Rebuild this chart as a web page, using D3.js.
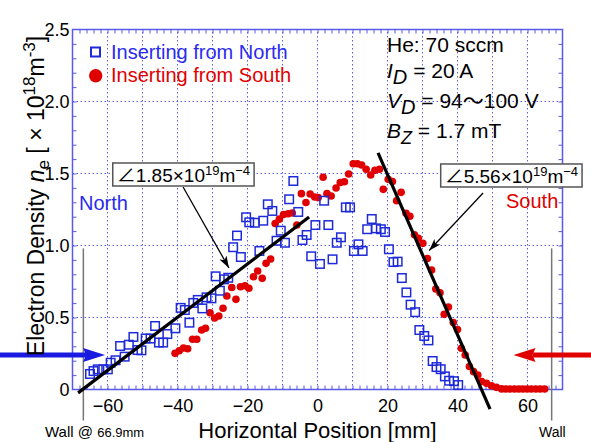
<!DOCTYPE html>
<html>
<head>
<meta charset="utf-8">
<script src="https://cdn.jsdelivr.net/npm/d3@7"></script>
<style>
  body { margin: 0; background: #fff; }
  svg { display: block; }
  text { font-family: "Liberation Sans", Arial, "Noto Sans CJK JP", sans-serif; }
</style>
</head>
<body>
<svg id="chart" width="591" height="442"></svg>
<script>
// Probe inserted from the north wall: position [mm], density [1e18 m^-3]
const northX = [-65.0,-64.0,-62.8,-61.2,-59.9,-59.1,-57.7,-56.4,-55.1,-53.9,-52.6,-51.4,-50.3,-49.1,-47.7,-46.4,-45.3,-44.1,-42.9,-40.6,
  -39.1,-37.9,-36.6,-35.5,-34.2,-32.9,-31.7,-30.3,-29.1,-27.9,-26.7,-25.5,-24.1,-23.0,-21.9,-20.4,-19.5,-17.9,-16.6,-15.5,
  -14.2,-12.9,-11.7,-10.5,-9.3,-8.1,-6.9,-5.5,-4.3,-3.1,-1.8,-0.6,0.7,1.9,3.1,4.3,5.5,6.7,8.1,9.3,
  10.4,11.7,12.9,14.2,15.5,16.7,18.1,19.3,20.4,21.7,22.9,24.1,25.4,26.6,27.9,29.1,30.5,31.7,32.9,34.0,
  35.2,36.4,37.6,39.0,40.2];
const northY = [0.108,0.128,0.140,0.140,0.140,0.186,0.203,0.302,0.228,0.311,0.365,0.274,0.272,0.354,0.354,0.441,0.326,0.326,0.385,0.425,
  0.567,0.552,0.464,0.601,0.622,0.563,0.640,0.633,0.786,0.686,0.765,0.776,0.988,1.069,0.920,1.196,1.161,1.158,0.962,1.172,
  1.286,1.240,1.033,1.103,1.019,1.321,1.448,1.233,1.038,1.073,0.925,1.142,0.872,1.311,1.142,0.904,1.019,1.057,1.265,1.265,
  0.962,1.008,0.962,1.113,1.184,1.119,1.113,1.094,0.974,0.885,0.888,0.774,0.674,0.589,0.537,0.413,0.372,0.341,0.198,0.156,
  0.141,0.091,0.061,0.058,0.031];

// Probe inserted from the south wall
const southX = [-40.7,-39.5,-38.3,-37.1,-35.7,-34.5,-33.1,-32.0,-30.7,-29.4,-28.2,-27.0,-25.9,-24.5,-23.3,-22.0,-20.7,-19.6,-18.3,-17.1,
  -15.8,-14.7,-13.4,-12.1,-10.9,-9.7,-8.4,-7.2,-5.9,-4.6,-3.3,-2.1,-0.8,0.2,1.6,2.7,3.9,5.3,6.5,7.7,
  8.9,10.2,11.4,12.6,13.9,15.2,16.4,17.7,18.8,20.2,21.4,22.6,23.9,25.3,26.4,27.7,28.8,30.1,31.4,32.6,
  33.8,35.0,36.2,37.4,38.8,40.0,41.1,42.2,43.4,44.6,45.8,46.9,48.3,49.7,51.1,52.6,53.8,55.0,56.3,57.5,
  58.7,59.9,61.1,62.4,63.6,64.9];
const southY = [0.251,0.269,0.288,0.283,0.349,0.349,0.413,0.425,0.533,0.497,0.510,0.564,0.649,0.708,0.626,0.714,0.721,0.703,0.783,0.823,
  0.772,0.876,0.906,1.153,1.183,1.215,1.221,1.226,1.142,1.360,1.299,1.358,1.337,1.333,1.474,1.360,1.344,1.399,1.438,1.443,
  1.497,1.568,1.568,1.559,1.530,1.490,1.522,1.529,1.390,1.460,1.444,1.311,1.369,1.224,1.203,1.075,1.050,1.015,0.910,0.830,
  0.698,0.672,0.522,0.573,0.465,0.417,0.286,0.240,0.160,0.124,0.101,0.056,0.043,0.026,0.015,0.004,0.003,0.003,0.003,0.003,
  0.003,0.003,0.003,0.003,0.003,0.003];

// Axis ticks
const xTicks = [-60, -40, -20, 0, 20, 40, 60];
const yTicks = [0, 0.5, 1.0, 1.5, 2.0, 2.5];
const yTickLabels = ["0", "0.5", "1.0", "1.5", "2.0", "2.5"];

// Gradient fits: [slope per mm (1e18 m^-3 / mm), anchor x, anchor y, x start, x end]
const fitNorth = [0.0185, -35.4, 0.587, -68.4, -2.4];
const fitSouth = [-0.0556, 33.3, 0.753, 17.3, 49.3];
const fitLabels = ["1.85", "5.56"];

// Wall position [mm]
const wallPos = [-66.9, 66.9];

const svg = d3.select("#chart");
const x = d3.scaleLinear().domain([-70, 70]).range([72.5, 562.5]);
const y = d3.scaleLinear().domain([0, 2.5]).range([389.5, 29.5]);

const frameColor = "#5a5ae6";
const gridColor = "#5f5fe6";
const blue = "#1e2ad8";
const red = "#e00000";

// Dotted grid
const grid = svg.append("g");
grid.selectAll("line.gx").data(d3.range(-60, 61, 10)).join("line")
  .attr("x1", d => x(d)).attr("x2", d => x(d))
  .attr("y1", y(0)).attr("y2", y(2.5))
  .attr("stroke", gridColor).attr("stroke-width", 1).attr("stroke-dasharray", "1.5,2.5");
grid.selectAll("line.gy").data([0.5, 1.0, 1.5, 2.0]).join("line")
  .attr("x1", x(-70)).attr("x2", x(70))
  .attr("y1", d => y(d)).attr("y2", d => y(d))
  .attr("stroke", gridColor).attr("stroke-width", 1).attr("stroke-dasharray", "1.5,2.5");

// Inward minor ticks on all four sides
const xMinor = d3.range(-68, 70, 2);
const yMinor = d3.range(1, 25).map(d => d / 10);
function styleTicks(g) {
  g.select(".domain").remove();
  g.selectAll(".tick line").attr("stroke", frameColor).attr("stroke-width", 1);
}
svg.append("g").attr("transform", `translate(0,${y(0)})`)
  .call(d3.axisBottom(x).tickValues(xMinor).tickSize(-4).tickFormat("")).call(styleTicks);
svg.append("g").attr("transform", `translate(0,${y(2.5)})`)
  .call(d3.axisTop(x).tickValues(xMinor).tickSize(-4).tickFormat("")).call(styleTicks);
svg.append("g").attr("transform", `translate(${x(-70)},0)`)
  .call(d3.axisLeft(y).tickValues(yMinor).tickSize(-4).tickFormat("")).call(styleTicks);
svg.append("g").attr("transform", `translate(${x(70)},0)`)
  .call(d3.axisRight(y).tickValues(yMinor).tickSize(-4).tickFormat("")).call(styleTicks);

// Frame
svg.append("rect")
  .attr("x", x(-70)).attr("y", y(2.5))
  .attr("width", x(70) - x(-70)).attr("height", y(0) - y(2.5))
  .attr("fill", "none").attr("stroke", frameColor).attr("stroke-width", 1.5);

// Tick labels
const xAxis = svg.append("g").attr("transform", `translate(0,${y(0)})`)
  .call(d3.axisBottom(x).tickValues(xTicks).tickSize(0).tickPadding(10));
xAxis.select(".domain").remove();
xAxis.selectAll("text").attr("font-size", 18).attr("fill", "#000")
  .style("font-family", '"Liberation Sans", Arial, sans-serif');

const yAxis = svg.append("g").attr("transform", `translate(${x(-70)},0)`)
  .call(d3.axisLeft(y).tickValues(yTicks).tickSize(0).tickPadding(3)
    .tickFormat((d, i) => yTickLabels[i]));
yAxis.select(".domain").remove();
yAxis.selectAll("text").attr("font-size", 18).attr("fill", "#000")
  .style("font-family", '"Liberation Sans", Arial, sans-serif');

// Wall markers
svg.selectAll("line.wall").data(wallPos).join("line")
  .attr("x1", d => x(d)).attr("x2", d => x(d))
  .attr("y1", y(0.98)).attr("y2", y(0) + 31)
  .attr("stroke", "#777").attr("stroke-width", 1.5);

// Data points
svg.append("g").selectAll("circle").data(d3.zip(southX, southY)).join("circle")
  .attr("cx", d => x(d[0])).attr("cy", d => y(d[1])).attr("r", 3.8)
  .attr("fill", red);
const sq = 8.5;
svg.append("g").selectAll("rect").data(d3.zip(northX, northY)).join("rect")
  .attr("x", d => x(d[0]) - sq / 2).attr("y", d => y(d[1]) - sq / 2)
  .attr("width", sq).attr("height", sq)
  .attr("fill", "none").attr("stroke", blue).attr("stroke-width", 1.5);

// Gradient fit lines
function fitLine(f) {
  const [m, x0, y0, a, b] = f;
  return [[a, y0 + m * (a - x0)], [b, y0 + m * (b - x0)]];
}
const line = d3.line().x(d => x(d[0])).y(d => y(d[1]));
[fitNorth, fitSouth].forEach(f => {
  svg.append("path").attr("d", line(fitLine(f)))
    .attr("stroke", "#000").attr("stroke-width", 3.2).attr("fill", "none");
});

// Arrowheads
const defs = svg.append("defs");
defs.append("marker").attr("id", "headThin")
  .attr("viewBox", "0 0 12 8").attr("refX", 12).attr("refY", 4)
  .attr("markerWidth", 12).attr("markerHeight", 8)
  .attr("markerUnits", "userSpaceOnUse").attr("orient", "auto")
  .append("path").attr("d", "M0,0 L12,4 L0,8 L3,4 Z").attr("fill", "#000");

// Gradient callouts: [x, y] of box corner, arrow tail, arrow tip (data units)
const callouts = [
  { label: fitLabels[0], box: [-58.5, 1.573], tail: [-38.4, 1.406], tip: [-25.3, 0.844] },
  { label: fitLabels[1], box: [35.2, 1.566], tail: [47.3, 1.365], tip: [31.9, 0.965] }
];
callouts.forEach(c => {
  svg.append("line")
    .attr("x1", x(c.tail[0])).attr("y1", y(c.tail[1]))
    .attr("x2", x(c.tip[0])).attr("y2", y(c.tip[1]))
    .attr("stroke", "#000").attr("stroke-width", 1.3)
    .attr("marker-end", "url(#headThin)");
  const g = svg.append("g");
  const rect = g.append("rect").attr("fill", "#fff").attr("stroke", "#555").attr("stroke-width", 1.5);
  const t = g.append("text").attr("x", x(c.box[0]) + 4).attr("y", y(c.box[1]) + 19)
    .attr("font-size", 19).attr("fill", "#000");
  t.append("tspan").text("\u2220" + c.label + "\u00d7" + "10");
  t.append("tspan").attr("dy", -7).attr("font-size", 13).text("19");
  t.append("tspan").attr("dy", 7).text("m");
  t.append("tspan").attr("dy", -7).attr("font-size", 13).text("\u22124");
  const bb = t.node().getBBox();
  rect.attr("x", x(c.box[0])).attr("y", y(c.box[1]))
    .attr("width", bb.width + 8).attr("height", 23);
});

// Side labels
svg.append("text").attr("x", 79).attr("y", 210).attr("font-size", 20).attr("fill", "#2a2af0").text("North");
svg.append("text").attr("x", 506).attr("y", 208).attr("font-size", 20).attr("fill", red).text("South");

// Probe insertion arrows
function bigArrow(x0, x1, yv, color) {
  const yy = y(yv);
  const dir = Math.sign(x1 - x0);
  const base = x1 - dir * 19;
  svg.append("line").attr("x1", x0).attr("x2", base).attr("y1", yy).attr("y2", yy)
    .attr("stroke", color).attr("stroke-width", 5);
  svg.append("path")
    .attr("d", `M${x1},${yy} L${base - dir * 3},${yy - 7} L${base},${yy} L${base - dir * 3},${yy + 7} Z`)
    .attr("fill", color);
}
bigArrow(0, x(-60.7), 0.24, "#1a1ae0");
bigArrow(591, x(56.0), 0.24, red);

// Legend
svg.append("rect").attr("x", 91).attr("y", 47.5).attr("width", 9).attr("height", 9)
  .attr("fill", "none").attr("stroke", blue).attr("stroke-width", 2);
svg.append("text").attr("x", 111).attr("y", 59).attr("font-size", 20).attr("fill", "#2a2af0")
  .text("Inserting from North");
svg.append("circle").attr("cx", 95.7).attr("cy", 75.7).attr("r", 6.7).attr("fill", red);
svg.append("text").attr("x", 111).attr("y", 82).attr("font-size", 20).attr("fill", red)
  .text("Inserting from South");

// Discharge conditions
const info = svg.append("g").attr("font-size", 21).attr("fill", "#000");
info.append("text").attr("x", 387).attr("y", 52).text("He: 70 sccm");
const t1 = info.append("text").attr("x", 387).attr("y", 78);
t1.append("tspan").attr("font-style", "italic").text("I");
t1.append("tspan").attr("font-style", "italic").attr("dy", 6).attr("font-size", 20).text("D");
t1.append("tspan").attr("dy", -6).text(" = 20 A");
const t2 = info.append("text").attr("x", 387).attr("y", 108);
t2.append("tspan").attr("font-style", "italic").text("V");
t2.append("tspan").attr("font-style", "italic").attr("dy", 6).attr("font-size", 20).text("D");
t2.append("tspan").attr("dy", -6).text(" = 94\u301c100 V");
const t3 = info.append("text").attr("x", 387).attr("y", 138);
t3.append("tspan").attr("font-style", "italic").text("B");
t3.append("tspan").attr("font-style", "italic").attr("dy", 6).attr("font-size", 18).text("Z");
t3.append("tspan").attr("dy", -6).text(" = 1.7 mT");

// Axis titles
svg.append("text").attr("x", 317.5).attr("y", 438).attr("text-anchor", "middle")
  .attr("font-size", 22).attr("fill", "#000").text("Horizontal Position [mm]");

const yt = svg.append("text").attr("transform", "translate(44,196) rotate(-90)")
  .attr("text-anchor", "middle").attr("font-size", 23).attr("fill", "#000");
yt.append("tspan").text("Electron Density ");
yt.append("tspan").attr("font-style", "italic").text("n");
yt.append("tspan").attr("dy", 5).attr("font-size", 17).text("e");
yt.append("tspan").attr("dy", -5).text(" [ \u00d7 10");
yt.append("tspan").attr("dy", -9).attr("font-size", 17).text("18");
yt.append("tspan").attr("dy", 9).text("m");
yt.append("tspan").attr("dy", -9).attr("font-size", 17).text("-3");
yt.append("tspan").attr("dy", 9).text("]");

// Wall notes
const wn = svg.append("text").attr("x", 45).attr("y", 437).attr("font-size", 15).attr("fill", "#000");
wn.append("tspan").text("Wall @ ");
wn.append("tspan").attr("font-size", 13).text("66.9mm");
svg.append("text").attr("x", 539).attr("y", 437).attr("font-size", 14).attr("fill", "#000").text("Wall");
</script>
</body>
</html>
